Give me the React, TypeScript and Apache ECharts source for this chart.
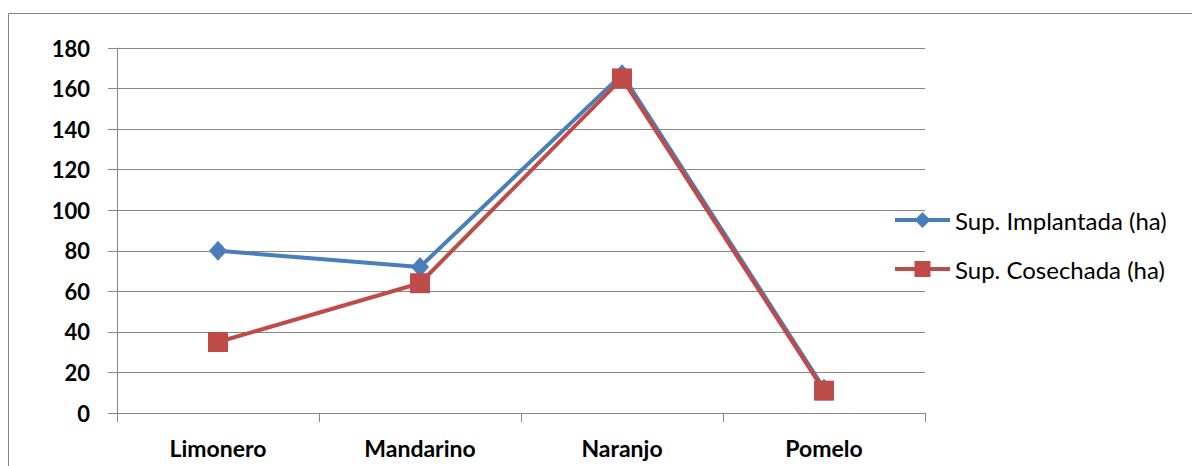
import React, { useEffect, useRef } from "react";
import * as echarts from "echarts";

const categories = ["Limonero", "Mandarino", "Naranjo", "Pomelo"];
const implantada = [80, 72, 167, 12];
const cosechada = [35, 64, 165, 11];
const seriesNames = ["Sup. Implantada (ha)", "Sup. Cosechada (ha)"];

export default function App() {
  const ref = useRef<HTMLDivElement>(null);
  useEffect(() => {
    if (!ref.current) return;
    const chart = echarts.init(ref.current, null, { renderer: "svg" });
    const gray = "#878787";
    const blue = "#4A7EBB";
    const red = "#BE4B48";
    chart.setOption({
      animation: false,
      backgroundColor: "#ffffff",
      grid: { left: 117, right: 267, top: 48, bottom: 53, containLabel: false },
      graphic: [
        {
          type: "rect",
          shape: { x: 8.5, y: 13.5, width: 1300, height: 600 },
          style: { fill: "none", stroke: gray, lineWidth: 1 },
          silent: true,
        },
      ],
      legend: {
        orient: "vertical",
        left: 888,
        top: 203,
        itemWidth: 55,
        itemHeight: 20,
        itemGap: 25,
        textStyle: { fontFamily: "Lato", fontSize: 24, color: "#000", lineHeight: 22 },
        data: [
          { name: seriesNames[0], lineStyle: { width: 4, color: blue } },
          { name: seriesNames[1], lineStyle: { width: 4, color: red } },
        ],
      },
      xAxis: {
        type: "category",
        data: categories,
        boundaryGap: true,
        axisLine: { lineStyle: { color: gray, width: 1 } },
        axisTick: { show: true, length: 9, inside: false, lineStyle: { color: gray } },
        axisLabel: {
          fontFamily: "Lato",
          fontWeight: "bold",
          fontSize: 23,
          color: "#000",
          margin: 23,
        },
        splitLine: { show: false },
      },
      yAxis: {
        type: "value",
        min: 0,
        max: 180,
        interval: 20,
        axisLine: { show: true, lineStyle: { color: gray, width: 1 } },
        axisTick: { show: true, length: 9, inside: false, lineStyle: { color: gray } },
        axisLabel: {
          fontFamily: "Lato",
          fontWeight: "bold",
          fontSize: 22,
          color: "#000",
          margin: 27,
        },
        splitLine: { show: true, lineStyle: { color: gray, width: 1 } },
      },
      series: [
        {
          name: seriesNames[0],
          type: "line",
          data: implantada,
          symbol: "diamond",
          symbolSize: [18, 20],
          lineStyle: { color: blue, width: 4 },
          itemStyle: { color: blue },
        },
        {
          name: seriesNames[1],
          type: "line",
          data: cosechada,
          symbol: "rect",
          symbolSize: 20,
          lineStyle: { color: red, width: 4 },
          itemStyle: { color: red },
        },
      ],
    });
    return () => chart.dispose();
  }, []);
  return (
    <div
      ref={ref}
      style={{ position: "absolute", left: 0, top: 0, width: 1192, height: 466 }}
    />
  );
}
